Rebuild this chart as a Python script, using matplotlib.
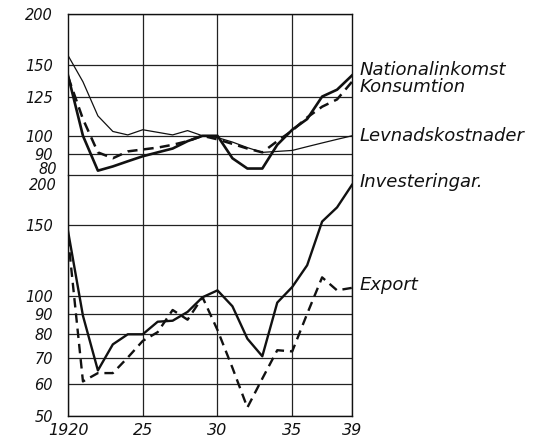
import matplotlib
matplotlib.use('Agg')
from matplotlib import pyplot as plt
from matplotlib.ticker import NullLocator, FixedLocator

years = list(range(1920, 1940))

# övre diagrammet
nationalinkomst = [141, 100, 82, 84, 86.5, 89, 91, 93, 97, 100,
                   100, 88, 83, 83, 95, 103.5, 110, 125, 130, 141]
konsumtion = [140, 110, 91, 88, 91.5, 92.5, 93.5, 95, 97, 100,
              98, 95.5, 93, 91, 97, 103, 111, 118, 123, 136]
levnadskostnader = [158, 136, 112, 102.5, 100.5, 103.5, 102, 100.5, 103, 100,
                    99, 96.5, 93.5, 91, 91.5, 92, 94, 96, 98, 100]

# nedre diagrammet
investeringar = [145, 89, 65, 75.5, 80, 80, 86, 86.5, 91, 99,
                 103, 94, 78, 70.5, 96, 105, 119, 153, 166, 189]
export = [140, 61, 64, 64, 70, 77, 81, 92, 87, 99,
          82, 66, 52.5, 62, 73, 72.5, 90, 111, 103, 104.5]

top_ticks = [80, 90, 100, 125, 150, 200]
bottom_ticks = [50, 60, 70, 80, 90, 100, 150, 200]
x_ticks = [1920, 1925, 1930, 1935, 1939]
x_labels = ['1920', '25', '30', '35', '39']

plt.rcParams['font.family'] = ['DejaVu Sans']
plt.rcParams['font.style'] = 'italic'

fig = plt.figure(figsize=(5.58, 4.42), dpi=100)
W, H = 558.0, 442.0
left, right = 68 / W, 352 / W
y_top, y_mid, y_bot = 1 - 14 / H, 1 - 175 / H, 1 - 416 / H

ax1 = fig.add_axes([left, y_mid, right - left, y_top - y_mid])
ax2 = fig.add_axes([left, y_bot, right - left, y_mid - y_bot])

ax1.plot(years, nationalinkomst, color='#111111', lw=1.9)
ax1.plot(years, konsumtion, color='#111111', lw=1.8, dashes=(4, 2.5))
ax1.plot(years, levnadskostnader, color='#111111', lw=0.9)

ax2.plot(years, investeringar, color='#111111', lw=1.7)
ax2.plot(years, export, color='#111111', lw=1.7, dashes=(4, 2.5))

for ax, lo, hi, ticks in [(ax1, 80, 200, top_ticks), (ax2, 50, 200, bottom_ticks)]:
    ax.set_yscale('log')
    ax.set_ylim(lo, hi)
    ax.set_xlim(1920, 1939)
    ax.yaxis.set_major_locator(FixedLocator(ticks))
    ax.yaxis.set_minor_locator(NullLocator())
    ax.set_xticks([1925, 1930, 1935])
    ax.grid(True, color='#222222', lw=0.9)
    ax.tick_params(axis='both', length=0, labelsize=10.5, pad=11, colors='#111111')
    for s in ax.spines.values():
        s.set_color('#111111')
        s.set_linewidth(1.0)

ax1.set_xticklabels([])
ax1.spines['bottom'].set_visible(False)
ax2.spines['top'].set_visible(False)
ax2.set_xticks(x_ticks)
ax2.set_xticklabels(x_labels)
ax2.tick_params(axis='x', pad=5, labelsize=11.5)

# 80 (övre) och 200 (nedre) sitter på samma linje -> skriv dem för hand
ax1.set_yticklabels([''] + [str(t) for t in top_ticks[1:]])
ax2.set_yticklabels([str(t) for t in bottom_ticks[:-1]] + [''])
num = dict(fontsize=10.5, style='italic', color='#111111', ha='right')
fig.text(57 / W, 1 - 174 / H, str(top_ticks[0]), va='baseline', **num)
fig.text(57 / W, 1 - 178.5 / H, str(bottom_ticks[-1]), va='top', **num)

lab = dict(fontsize=13, style='italic', color='#111111', va='center', ha='left')
fig.text(360 / W, 1 - 70 / H, 'Nationalinkomst', **lab)
fig.text(360 / W, 1 - 87 / H, 'Konsumtion', **lab)
fig.text(360 / W, 1 - 136 / H, 'Levnadskostnader', **lab)
fig.text(360 / W, 1 - 182 / H, 'Investeringar.', **lab)
fig.text(360 / W, 1 - 285 / H, 'Export', **lab)

plt.savefig('out.png', dpi=100, facecolor='white')
